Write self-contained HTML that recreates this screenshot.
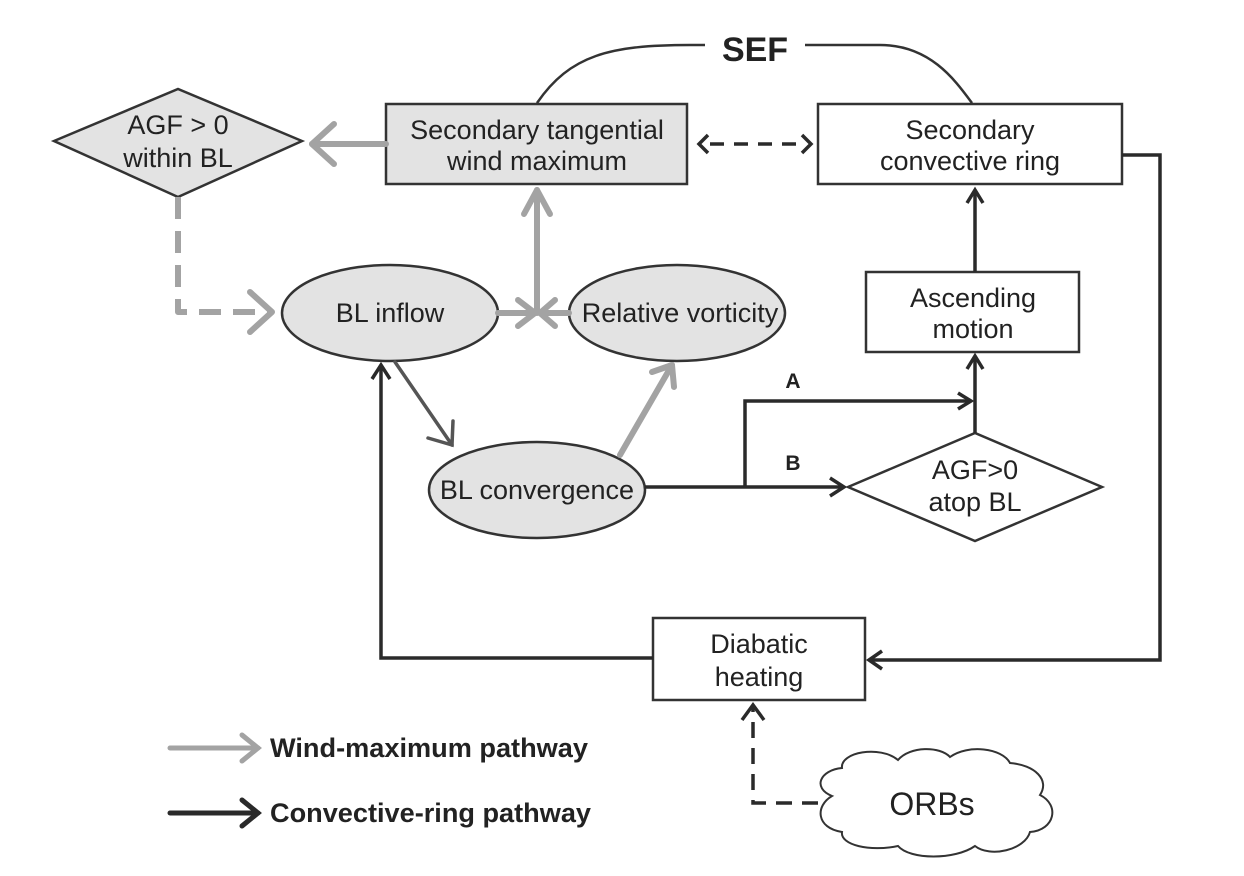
<!DOCTYPE html>
<html><head><meta charset="utf-8"><style>
html,body{margin:0;padding:0;background:#fff}
svg{display:block}
text{font-family:"Liberation Sans",sans-serif;fill:#222}
</style></head><body>
<svg width="1244" height="876" viewBox="0 0 1244 876" xmlns="http://www.w3.org/2000/svg">
<g stroke="#333" stroke-width="2.5" fill="none">
<path d="M537,103 C570,55 610,45 690,45 L705,45"/>
<path d="M805,45 L880,45 C930,45 955,80 972,103"/>
</g>
<text x="755" y="61" font-size="34" font-weight="bold" text-anchor="middle" fill="#222">SEF</text>

<polygon points="54,141 178,89 302,141 178,197" fill="#e3e3e3" stroke="#333" stroke-width="2.5"/>
<rect x="386" y="104" width="301" height="80" fill="#e3e3e3" stroke="#333" stroke-width="2.5"/>
<rect x="818" y="104" width="304" height="80" fill="#fff" stroke="#333" stroke-width="2.5"/>
<rect x="866" y="272" width="213" height="80" fill="#fff" stroke="#333" stroke-width="2.5"/>
<ellipse cx="390" cy="313" rx="108" ry="48" fill="#e3e3e3" stroke="#333" stroke-width="2.5"/>
<ellipse cx="677" cy="313" rx="108" ry="48" fill="#e3e3e3" stroke="#333" stroke-width="2.5"/>
<ellipse cx="537" cy="490" rx="108" ry="48" fill="#e3e3e3" stroke="#333" stroke-width="2.5"/>
<polygon points="848,487 975,433 1102,487 975,541" fill="#fff" stroke="#333" stroke-width="2.5"/>
<rect x="653" y="618" width="212" height="82" fill="#fff" stroke="#333" stroke-width="2.5"/>
<!-- cloud bbox 816-1057, 750-858 -->
<path d="M832,796 C812,788 820,770 842,768 C840,752 880,745 898,760 C910,746 940,746 950,757 C968,744 1002,748 1010,763 C1035,765 1050,780 1040,795 C1060,805 1055,830 1030,832 C1025,850 990,858 975,846 C955,860 910,860 898,846 C870,852 840,845 842,832 C816,828 815,806 832,796 Z" fill="#fff" stroke="#333" stroke-width="2"/>
<text x="932" y="815" font-size="32" text-anchor="middle">ORBs</text>

<g font-size="27" text-anchor="middle">
<text x="178" y="134">AGF &gt; 0</text><text x="178" y="167">within BL</text>
<text x="537" y="139">Secondary tangential</text><text x="537" y="170">wind maximum</text>
<text x="970" y="139">Secondary</text><text x="970" y="170">convective ring</text>
<text x="973" y="307">Ascending</text><text x="973" y="338">motion</text>
<text x="390" y="322">BL inflow</text>
<text x="680" y="322">Relative vorticity</text>
<text x="537" y="499">BL convergence</text>
<text x="975" y="479">AGF&gt;0</text><text x="975" y="511">atop BL</text>
<text x="759" y="653">Diabatic</text><text x="759" y="686">heating</text>
</g>
<text x="793" y="388" font-size="21" font-weight="bold" text-anchor="middle">A</text>
<text x="793" y="470" font-size="21" font-weight="bold" text-anchor="middle">B</text>

<g stroke="#a3a3a3" stroke-width="6" fill="none" stroke-linecap="round" stroke-linejoin="round">
<line x1="386" y1="144" x2="312" y2="144"/><polyline points="334,124 312,144 334,164"/>
<polyline points="178,197 178,312 272,312" stroke-dasharray="22,12" stroke-linecap="butt"/><polyline points="250,292 272,312 250,332"/>
<line x1="498" y1="313" x2="535" y2="313"/><polyline points="518,300 535,313 518,326"/>
<line x1="569" y1="313" x2="540" y2="313"/><polyline points="555,300 540,313 555,326"/>
<line x1="537" y1="313" x2="537" y2="190"/><polyline points="524,214 537,190 550,214"/>
<line x1="620" y1="455" x2="672" y2="365"/><polyline points="652,372 672,365 674,387"/>
</g>
<g stroke="#555" stroke-width="3.5" fill="none" stroke-linecap="round">
<line x1="395" y1="362" x2="452" y2="445"/><polyline points="428,438 452,445 453,421"/>
</g>
<g stroke="#2a2a2a" stroke-width="3.5" fill="none" stroke-linejoin="miter">
<line x1="645" y1="487" x2="844" y2="487"/><polyline points="830,478 844,487 830,496"/>
<polyline points="745,487 745,401 971,401"/><polyline points="958,393 971,401 958,409"/>
<line x1="975" y1="433" x2="975" y2="356"/><polyline points="967,369 975,356 983,369"/>
<line x1="975" y1="272" x2="975" y2="190"/><polyline points="967,203 975,190 983,203"/>
<line x1="710" y1="144" x2="800" y2="144" stroke-dasharray="14,10"/>
<polyline points="708,135 699,144 708,153"/><polyline points="802,135 811,144 802,153"/>
<polyline points="1122,155 1160,155 1160,660 869,660"/><polyline points="882,651 869,660 882,669"/>
<polyline points="653,658 381,658 381,365"/><polyline points="372,379 381,365 390,379"/>
<polyline points="818,803 753,803 753,705" stroke-dasharray="16,10"/><polyline points="742,720 753,705 764,720"/>
</g>

<g stroke-width="5" fill="none" stroke-linecap="round">
<line x1="170" y1="748" x2="258" y2="748" stroke="#a3a3a3"/><polyline points="242,735 258,748 242,761" stroke="#a3a3a3"/>
<line x1="170" y1="813" x2="258" y2="813" stroke="#2a2a2a"/><polyline points="242,800 258,813 242,826" stroke="#2a2a2a"/>
</g>
<text x="270" y="757" font-size="27" font-weight="bold" fill="#a3a3a3" textLength="318" lengthAdjust="spacingAndGlyphs">Wind-maximum pathway</text>
<text x="270" y="822" font-size="27" font-weight="bold" fill="#2a2a2a" textLength="321" lengthAdjust="spacingAndGlyphs">Convective-ring pathway</text>
</svg>
</body></html>
